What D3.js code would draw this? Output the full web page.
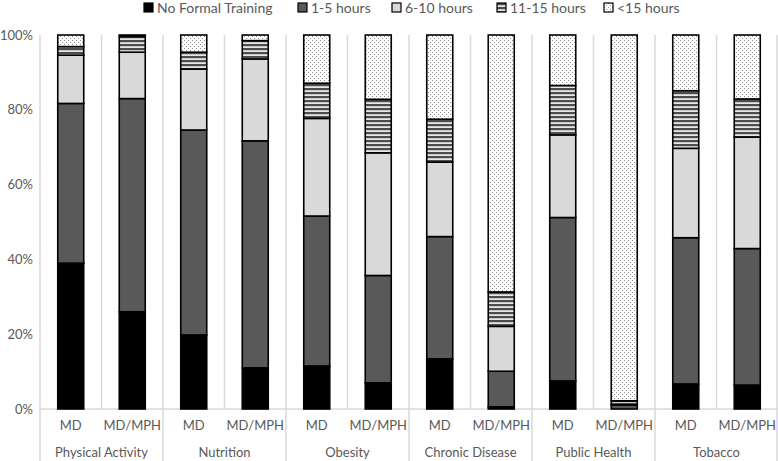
<!DOCTYPE html>
<html>
<head>
<meta charset="utf-8">
<script src="https://cdn.jsdelivr.net/npm/d3@7"></script>
<style>
  body { margin: 0; background: #fff; }
  text { font-family: Lato, "Liberation Sans", sans-serif; fill: #595959; }
</style>
</head>
<body>
<svg id="chart" width="778" height="461"></svg>
<script>
// data (percent of respondents)
const groups = ["Physical Activity", "Nutrition", "Obesity", "Chronic Disease", "Public Health", "Tobacco"];
const degrees = ["MD", "MD/MPH"];
const seriesNames = ["No Formal Training", "1-5 hours", "6-10 hours", "11-15 hours", "<15 hours"];
const noFormal = [39, 26, 19.8, 11, 11.5, 7, 13.4, 0.6, 7.5, 0, 6.7, 6.4];
const hours1to5 = [42.7, 57, 54.8, 60.7, 40.1, 28.7, 32.7, 9.5, 43.7, 1.1, 39.1, 36.5];
const hours6to10 = [12.9, 12.4, 16.3, 21.9, 26.1, 32.8, 19.9, 12, 22.1, 0.2, 23.9, 29.8];
const hours11to15 = [2.3, 4.2, 4.5, 4.9, 9.4, 14.3, 11.5, 9.2, 13.2, 0.9, 15.4, 10.2];
const hoursOver15 = [3.1, 0.4, 4.6, 1.5, 12.9, 17.2, 22.5, 68.7, 13.5, 97.8, 14.9, 17.1];
const yTicks = [0, 20, 40, 60, 80, 100];

const svg = d3.select("#chart");
const margin = {top: 35, left: 40, right: 0, bottom: 52};
const W = 778, H = 461;

// one row per bar
const rows = [];
groups.forEach((g, gi) => degrees.forEach((d, di) => {
  const i = gi * 2 + di;
  rows.push({key: g + "|" + d, group: g, degree: d,
    "No Formal Training": noFormal[i], "1-5 hours": hours1to5[i], "6-10 hours": hours6to10[i],
    "11-15 hours": hours11to15[i], "<15 hours": hoursOver15[i]});
}));

const x = d3.scaleBand().domain(rows.map(r => r.key)).range([margin.left, W - margin.right]).paddingInner(0).paddingOuter(0);
const y = d3.scaleLinear().domain([0, 100]).range([H - margin.bottom, margin.top]);
const barW = 26;

// patterns
const defs = svg.append("defs");
const stripe = defs.append("pattern").attr("id", "stripes").attr("patternUnits", "userSpaceOnUse")
  .attr("width", 6).attr("height", 4);
stripe.append("rect").attr("width", 6).attr("height", 4).attr("fill", "#e6e6e6");
stripe.append("rect").attr("width", 6).attr("height", 2.2).attr("fill", "#4d4d4d");
const dots = defs.append("pattern").attr("id", "dots").attr("patternUnits", "userSpaceOnUse")
  .attr("width", 4).attr("height", 4);
dots.append("rect").attr("width", 4).attr("height", 4).attr("fill", "#ffffff");
dots.append("rect").attr("x", 0).attr("y", 0).attr("width", 1).attr("height", 1).attr("fill", "#8c8c8c");
dots.append("rect").attr("x", 2).attr("y", 2).attr("width", 1).attr("height", 1).attr("fill", "#8c8c8c");

const fills = d3.scaleOrdinal().domain(seriesNames)
  .range(["#000000", "#595959", "#d9d9d9", "url(#stripes)", "url(#dots)"]);

// vertical gridlines between bars
const bounds = rows.map(r => x(r.key)).concat([W - margin.right - 1]);
svg.append("g").selectAll("line").data(bounds).join("line")
  .attr("x1", d => d).attr("x2", d => d)
  .attr("y1", y(100)).attr("y2", (d, i) => i % 2 === 0 ? H : y(0))
  .attr("stroke", "#d9d9d9").attr("stroke-width", 1.5);

// x axis line
svg.append("line").attr("x1", margin.left).attr("x2", W).attr("y1", y(0)).attr("y2", y(0))
  .attr("stroke", "#d9d9d9").attr("stroke-width", 1.5);

// stacked bars
const stacked = d3.stack().keys(seriesNames)(rows);
svg.append("g").selectAll("g").data(stacked).join("g")
  .attr("fill", d => fills(d.key))
  .selectAll("rect").data(d => d).join("rect")
  .attr("x", d => x(d.data.key) + x.bandwidth() / 2 - barW / 2)
  .attr("width", barW)
  .attr("y", d => y(d[1]))
  .attr("height", d => y(d[0]) - y(d[1]))
  .attr("stroke", "#000").attr("stroke-width", 1.6);

// y tick labels
svg.append("g").selectAll("text").data(yTicks).join("text")
  .attr("x", 33).attr("y", d => y(d)).attr("dy", "0.35em")
  .attr("text-anchor", "end").attr("font-size", 13)
  .text(d => d + "%");

// degree labels
svg.append("g").selectAll("text").data(rows).join("text")
  .attr("x", d => x(d.key) + x.bandwidth() / 2).attr("y", 430)
  .attr("text-anchor", "middle").attr("font-size", 13)
  .text(d => d.degree);

// group labels
svg.append("g").selectAll("text").data(groups).join("text")
  .attr("x", g => x(g + "|MD") + x.bandwidth()).attr("y", 457)
  .attr("text-anchor", "middle").attr("font-size", 13)
  .text(g => g);

// legend
const legendX = [144, 298, 392, 497, 604];
const leg = svg.append("g").selectAll("g").data(seriesNames).join("g")
  .attr("transform", (d, i) => `translate(${legendX[i]},3)`);
leg.append("rect").attr("width", 9).attr("height", 9)
  .attr("fill", d => fills(d)).attr("stroke", "#000").attr("stroke-width", 1.2);
leg.append("text").attr("x", 13).attr("y", 5.5).attr("dy", "0.35em")
  .attr("font-size", 14).text(d => d);
</script>
</body>
</html>
